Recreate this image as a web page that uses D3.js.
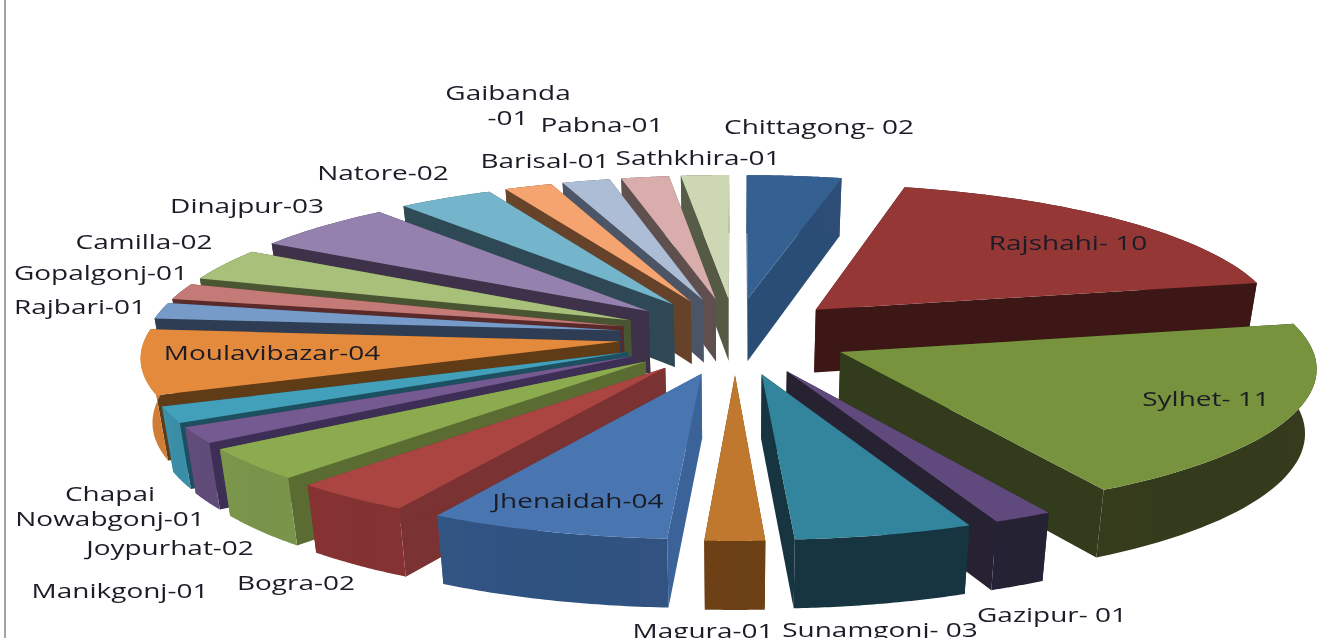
<!DOCTYPE html>
<html>
<head>
<meta charset="utf-8">
<style>
  html, body { margin: 0; padding: 0; background: #fff; overflow: hidden; }
  svg { display: block; }
  text { font-family: "Open Sans", sans-serif; font-size: 19.5px; fill: #1b1b26; }
</style>
</head>
<body>
<svg id="chart"></svg>
<script src="https://cdn.jsdelivr.net/npm/d3@7"></script>
<script>
// Data, clockwise from 12 o'clock
var districts = ["Chittagong", "Rajshahi", "Sylhet", "Gazipur", "Sunamgonj", "Magura", "Jhenaidah", "Bogra", "Joypurhat", "Manikgonj", "Chapai Nowabgonj", "Moulavibazar", "Rajbari", "Gopalgonj", "Camilla", "Dinajpur", "Natore", "Barisal", "Gaibanda", "Pabna", "Sathkhira"];
var counts = [2, 10, 11, 1, 3, 1, 4, 2, 2, 1, 1, 4, 1, 1, 2, 3, 2, 1, 1, 1, 1];

// top face, outer rim and cut wall colours
var topColors = ["#366092", "#953735", "#77933c", "#604a7b", "#31859c", "#c0782f", "#4876b0", "#ab4442", "#8cab50", "#755a92", "#43a0bb", "#e48a3c", "#779bc8", "#c47a77", "#a8c07a", "#9581ae", "#74b5cb", "#f5a46f", "#aebdd6", "#d8adac", "#cdd7b3"];
var rimColors = ["#2c4d75", "#3c1815", "#333a1a", "#262033", "#17343f", "#6b3f17", "#2f5280", "#833130", "#78934a", "#5f4b78", "#3a8da6", "#d07d36", "#2f3d52", "#5a2c2a", "#4a5530", "#3d3248", "#2e4a54", "#66432a", "#4c5566", "#5f4f4f", "#555a45"];
var wallColors = ["#2c4d75", "#3c1815", "#333a1a", "#262033", "#17343f", "#6b3f17", "#3a6499", "#7a3030", "#5a6c33", "#3e2f54", "#1f4f5e", "#5f3a17", "#2f3d52", "#5a2c2a", "#4a5530", "#3d3248", "#2e4a54", "#66432a", "#4c5566", "#5f4f4f", "#555a45"];

// Data labels, each line is its own text
var labelLines = [["Chittagong- 02"], ["Rajshahi- 10"], ["Sylhet- 11"], ["Gazipur- 01"], ["Sunamgonj- 03"], ["Magura-01"], ["Jhenaidah-04"], ["Bogra-02"], ["Joypurhat-02"], ["Manikgonj-01"], ["Chapai", "Nowabgonj-01"], ["Moulavibazar-04"], ["Rajbari-01"], ["Gopalgonj-01"], ["Camilla-02"], ["Dinajpur-03"], ["Natore-02"], ["Barisal-01"], ["Gaibanda", "-01"], ["Pabna-01"], ["Sathkhira-01"]];
var labelX = [819, 1068, 1206, 1052, 880, 703, 578, 296, 170, 120, 110, 272, 80, 101, 144, 247, 383, 545, 508, 602, 698];
var labelY = [134, 250, 406, 622, 637, 638, 508, 590, 555, 598, 501, 360, 314, 280, 249, 213, 180, 168, 100, 132, 165];

var width = 1325,
    height = 639,
    svg = d3.select("#chart").attr("width", width).attr("height", height);

// pie settings
var cx = 735, cy = 336,
    radiusRight = 468, radiusLeft = 474, radiusY = 142,
    perspective = 0.0945, // foreshortening of the back half
    explodeX = 0.245,
    explodeY = 0.27,
    textStretch = 1.435;

var depth = d3.scaleLinear().domain([-1.27, 1.27]).range([69, 58]);
var line = d3.line();

// Project a point on the pie plane (unit radius, y pointing back) to the screen
function project(px, py, lower) {
	var w = 1 + perspective * py;
	var sx = (px < 0 ? radiusLeft : radiusRight) * px / w,
	    sy = cy - radiusY * py / w;
	if (lower) {
		return [cx + sx * 0.98, sy + depth(py)];
	}
	return [cx + sx, sy];
}

var arcs = d3.pie().sort(null).value(function (d) { return d; })
	.startAngle(0).endAngle(2 * Math.PI)(counts);

var slices = arcs.map(function (a) {
	var mid = (a.startAngle + a.endAngle) / 2;
	var ox = explodeX * Math.sin(mid),
	    oy = explodeY * Math.cos(mid);
	var steps = d3.range(0, 41).map(function (i) { return a.startAngle + (a.endAngle - a.startAngle) * i / 40; });
	return {
		i: a.index,
		ox: ox,
		oy: oy,
		rim: steps.map(function (t) { return [ox + Math.sin(t), oy + Math.cos(t)]; })
	};
});

// Painter's order: back slices first
slices.sort(function (a, b) { return b.oy - a.oy; });

var defs = svg.append("defs");
defs.append("filter").attr("id", "soft").append("feGaussianBlur").attr("stdDeviation", 0.45);
defs.append("clipPath").attr("id", "frame").append("rect").attr("width", width).attr("height", 638);

var root = svg.append("g").attr("filter", "url(#soft)").attr("clip-path", "url(#frame)");

// left border of the chart area
root.append("line")
	.attr("x1", 5).attr("x2", 5).attr("y1", 0).attr("y2", height)
	.attr("stroke", "#a3a3a3").attr("stroke-width", 2);

var pieG = root.append("g");

slices.forEach(function (s) {
	var g = pieG.append("g");
	var apex = [s.ox, s.oy];
	var first = s.rim[0], last = s.rim[s.rim.length - 1];

	// rim shading
	var gradId = "rim" + s.i;
	var grad = defs.append("linearGradient").attr("id", gradId);
	grad.append("stop").attr("offset", "0%").attr("stop-color", d3.color(rimColors[s.i]).brighter(0.08));
	grad.append("stop").attr("offset", "55%").attr("stop-color", rimColors[s.i]);
	grad.append("stop").attr("offset", "100%").attr("stop-color", d3.color(rimColors[s.i]).brighter(0.04));

	// the two cut walls
	[first, last].forEach(function (p) {
		var quad = [project(apex[0], apex[1]), project(p[0], p[1]), project(p[0], p[1], true), project(apex[0], apex[1], true)];
		g.append("path").attr("d", line(quad) + "Z").attr("fill", wallColors[s.i]);
	});

	// outer rim
	var upper = s.rim.map(function (p) { return project(p[0], p[1]); });
	var lowerEdge = s.rim.map(function (p) { return project(p[0], p[1], true); }).reverse();
	g.append("path").attr("d", line(upper.concat(lowerEdge)) + "Z").attr("fill", "url(#" + gradId + ")");

	// top face
	var face = [project(apex[0], apex[1])].concat(upper);
	g.append("path").attr("d", line(face) + "Z").attr("fill", topColors[s.i]);
});

// Labels are stretched sideways like the picture
var labels = root.append("g");
labelLines.forEach(function (lines, i) {
	lines.forEach(function (txt, j) {
		labels.append("text")
			.attr("text-anchor", "middle")
			.attr("transform", "translate(" + labelX[i] + "," + (labelY[i] + j * 25) + ") scale(" + textStretch + ",1)")
			.text(txt);
	});
});
</script>
</body>
</html>
